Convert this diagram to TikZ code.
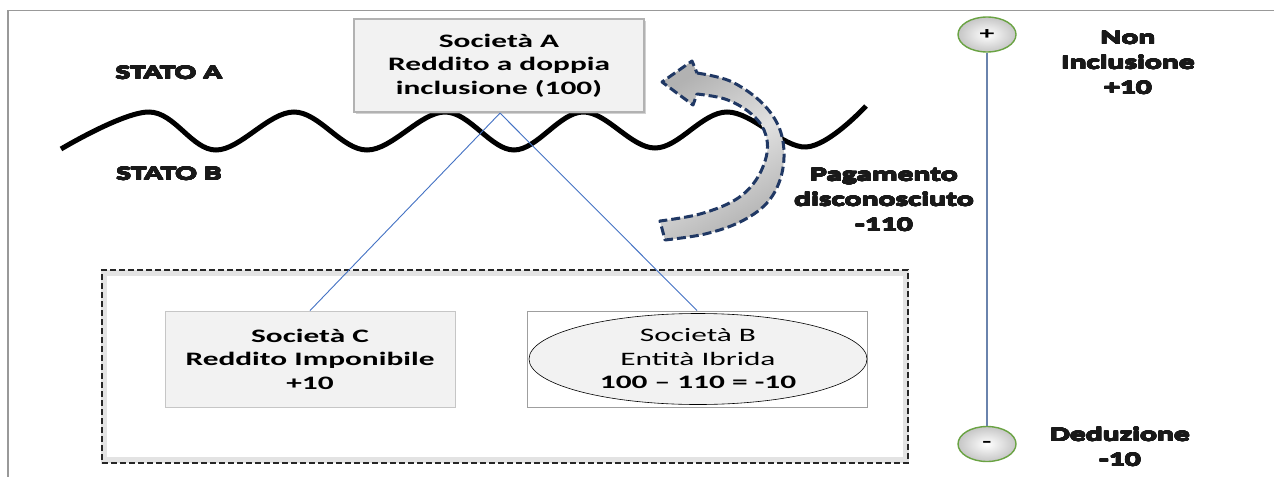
\documentclass[tikz,border=0pt]{standalone}
\usepackage{fontspec}
\setmainfont{Carlito}[FakeStretch=1.65]
\newfontfamily\heavyfont{Carlito}[FakeStretch=1.62]
\usepackage{contour}
\contourlength{0.45pt}
\contournumber{16}
\newcommand{\hvy}[1]{\contour{black!90}{#1}}
\usetikzlibrary{shapes.geometric,shadows,calc}
\definecolor{connblue}{HTML}{4472C4}
\definecolor{arrowblue}{HTML}{203864}
\definecolor{axisblue}{HTML}{6A83AD}
\definecolor{circgreen}{HTML}{6AA343}
\definecolor{boxfill}{HTML}{F2F2F2}
\tikzset{
  txt/.style={font=\fontsize{19}{23.5}\selectfont, align=center, inner sep=0pt},
  heavy/.style={font=\fontsize{19.5}{25}\selectfont\heavyfont\bfseries, align=center, inner sep=0pt, text=black!90},
  boxA/.style={rectangle, draw=gray!60, line width=2.2pt, fill=boxfill, minimum width=290pt, minimum height=93pt,
    drop shadow={opacity=0.35, shadow xshift=2pt, shadow yshift=-2pt}, txt, font=\fontsize{19}{23.5}\selectfont\bfseries},
  boxC/.style={rectangle, draw=gray!45, line width=0.8pt, fill=boxfill, minimum width=290pt, minimum height=96pt, txt, font=\fontsize{19}{23.5}\selectfont\bfseries},
  boxB/.style={rectangle, draw=gray!75, line width=1pt, fill=white, minimum width=340pt, minimum height=96pt},
  ellB/.style={ellipse, draw=black, line width=0.6pt, fill=boxfill, minimum width=338pt, minimum height=91pt, txt},
  conn/.style={draw=connblue, line width=0.9pt},
  wave/.style={draw=black, line width=5pt},
  arrowband/.style={draw=arrowblue, line width=3pt, dash pattern=on 9pt off 4pt, line join=round},
  pm/.style={ellipse, draw=circgreen, line width=1.4pt, inner color=white, outer color=gray!45, minimum width=58pt, minimum height=35pt, inner sep=0pt, font=\fontsize{18}{18}\selectfont\bfseries},
  axis/.style={draw=axisblue, line width=2.4pt},
  frameline/.style={draw=gray!80, line width=1.2pt},
  outerbox/.style={draw=black!85, line width=2pt, dash pattern=on 6pt off 3pt},
}
\begin{document}
\begin{tikzpicture}[x=1pt,y=-1pt]
\useasboundingbox (0,0) rectangle (1274,477);
\fill[white] (0,0) rectangle (1274,477);
% frame
\draw[frameline] (7,10.7) -- (1274,10.7);
\draw[frameline] (8,10.7) -- (8,477);

% wave
\draw[wave] plot[smooth, tension=0.6] coordinates {(61,149) (149,112) (216,150) (294,112) (367,150) (445,112) (514,150) (583,112) (655,148) (727,112) (806,147) (866,106)};

% state labels
\node[heavy] (sa) at (169,73) {\hvy{STATO A}};
\node[heavy] (sb) at (169,174) {\hvy{STATO B}};

% dashed outer container
\draw[gray!22, line width=6pt] (104,273) rectangle (906,460);
\node[outerbox, minimum width=806pt, minimum height=193pt, inner sep=0pt] (cont) at (505,366.5) {};

% boxes
\node[boxA] (A) at (499,65.5) {Società A\\Reddito a doppia\\inclusione (100)};
\node[boxC] (C) at (310,359) {Società C\\Reddito Imponibile\\+10};
\node[boxB] (Brect) at (697,359) {};
\node[ellB] (B) at (698,359) {Società B\\Entità Ibrida\\\textbf{100 – 110 = -10}};

% connectors
\coordinate (apex) at ([xshift=1pt]A.south);
\draw[conn] (apex) -- (C.north);
\draw[conn] (apex) -- (Brect.north);

% curved arrow
\path[left color=black!30, right color=black!30, middle color=black!12, shading angle=30] plot[smooth, tension=0.6] coordinates {(697,73) (730,81) (760,101) (778,125) (784,152) (780,180) (766,204) (740,222) (705,234) (665,240)}
  -- plot[smooth, tension=0.6] coordinates {(660,221) (700,214) (735,200) (756,180) (767,153) (764,130) (749,112) (725,99) (697,94)}
  -- (693,105) -- (662,82) -- (692,61) -- cycle;
\draw[arrowband] plot[smooth, tension=0.6] coordinates {(697,73) (730,81) (760,101) (778,125) (784,152) (780,180) (766,204) (740,222) (705,234) (665,240)}
  -- plot[smooth, tension=0.6] coordinates {(660,221) (700,214) (735,200) (756,180) (767,153) (764,130) (749,112) (725,99) (697,94)}
  -- (693,105) -- (662,82) -- (692,61) -- cycle;

% payment label
\node[heavy] (pay) at (884,200) {\hvy{Pagamento}\\\hvy{disconosciuto}\\\hvy{-110}};

% scale
\node[pm] (plus) at (987,34.5) {+};
\node[pm] (minus) at (987,444) {-};
\draw[axis] (plus.south) -- (minus.north);
\node[heavy] (ni) at (1128,63) {\hvy{Non}\\\hvy{Inclusione}\\\hvy{+10}};
\node[heavy] (ded) at (1120,447) {\hvy{Deduzione}\\\hvy{-10}};
\end{tikzpicture}
\end{document}
